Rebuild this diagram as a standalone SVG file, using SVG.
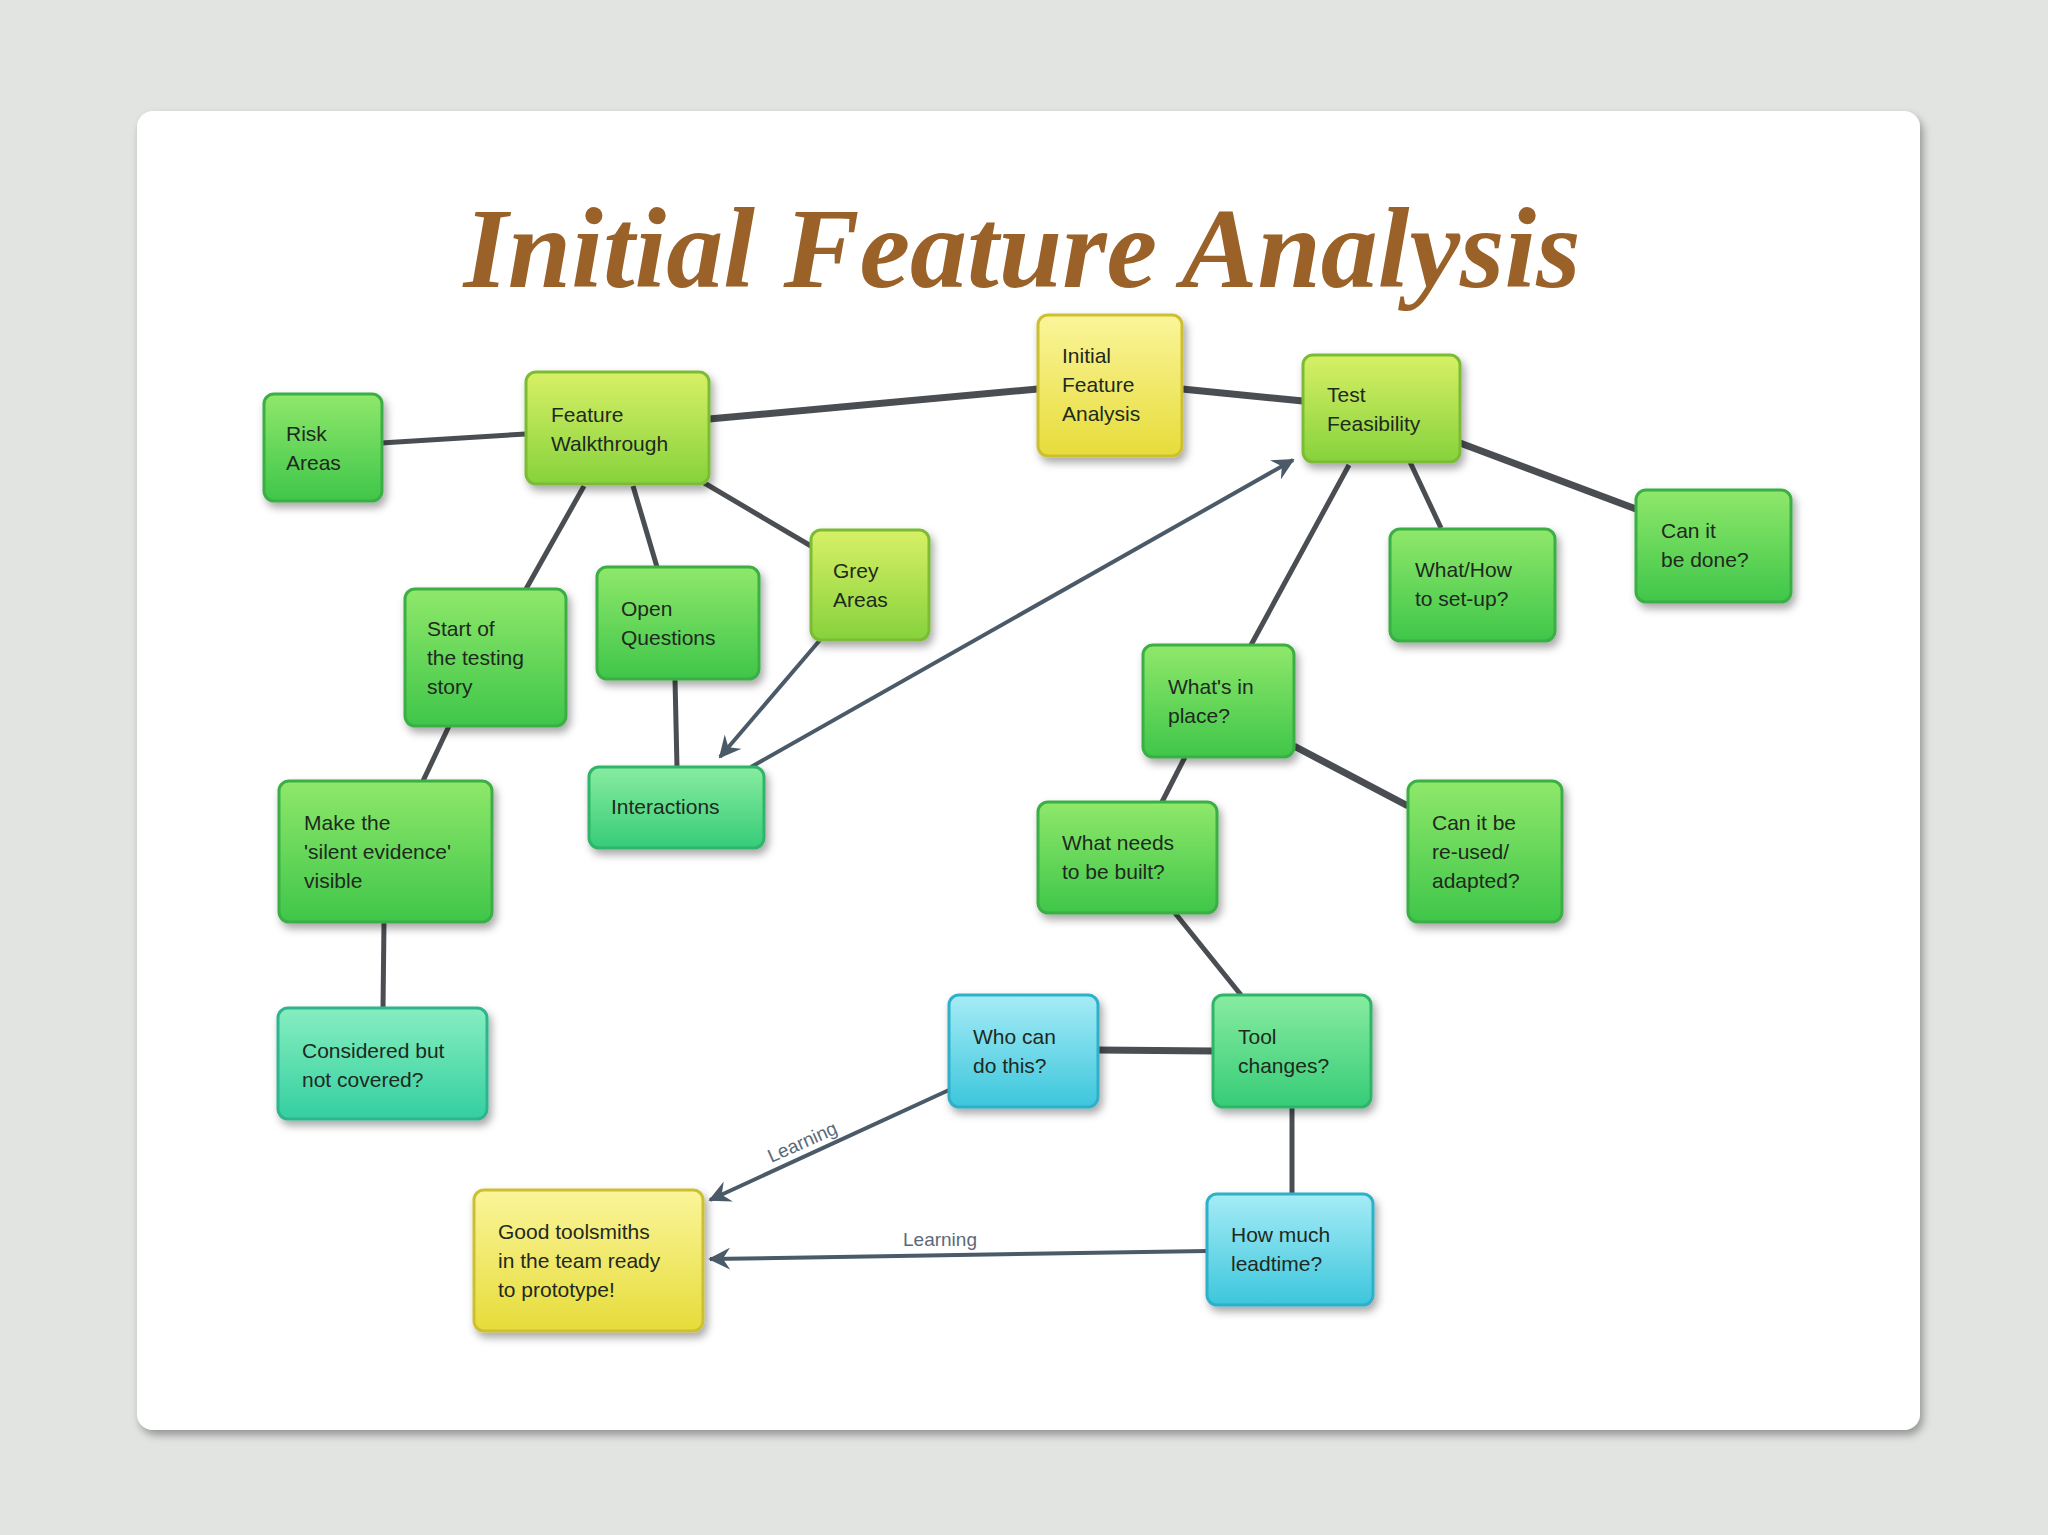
<svg xmlns="http://www.w3.org/2000/svg" width="2048" height="1535" viewBox="0 0 2048 1535">
<defs>
<linearGradient id="gG" x1="0" y1="0" x2="0" y2="1"><stop offset="0" stop-color="#8fe86a"/><stop offset="1" stop-color="#3fc64a"/></linearGradient>
<linearGradient id="gYG" x1="0" y1="0" x2="0" y2="1"><stop offset="0" stop-color="#d8f066"/><stop offset="1" stop-color="#86d23c"/></linearGradient>
<linearGradient id="gY" x1="0" y1="0" x2="0" y2="1"><stop offset="0" stop-color="#fbf59a"/><stop offset="1" stop-color="#e6dc3a"/></linearGradient>
<linearGradient id="gT" x1="0" y1="0" x2="0" y2="1"><stop offset="0" stop-color="#86eec0"/><stop offset="1" stop-color="#34cfa0"/></linearGradient>
<linearGradient id="gC" x1="0" y1="0" x2="0" y2="1"><stop offset="0" stop-color="#a6ecf6"/><stop offset="1" stop-color="#3cc6dc"/></linearGradient>
<linearGradient id="gTG" x1="0" y1="0" x2="0" y2="1"><stop offset="0" stop-color="#88eca0"/><stop offset="1" stop-color="#36cc78"/></linearGradient>
<marker id="arw" viewBox="0 0 12 12" refX="11" refY="6" markerWidth="22" markerHeight="22" orient="auto" markerUnits="userSpaceOnUse"><path d="M0,0 L12,6 L0,12 L4,6 z" fill="#4a5a68"/></marker>
<filter id="sh" x="-10%" y="-10%" width="130%" height="130%"><feDropShadow dx="3" dy="5" stdDeviation="4" flood-color="#000" flood-opacity="0.35"/></filter>
</defs>
<style>
.n rect{stroke-width:3;filter:url(#sh)}
.g{fill:url(#gG);stroke:#3aae45}
.yg{fill:url(#gYG);stroke:#7cbc35}
.y{fill:url(#gY);stroke:#ccc030}
.t{fill:url(#gT);stroke:#2fb590}
.c{fill:url(#gC);stroke:#2fb0c8}
.tg{fill:url(#gTG);stroke:#2fb56a}
.n text{font-family:"Liberation Sans",Arial,sans-serif;font-size:21px;fill:#1e2a1e}
.e line{stroke:#4a4e52;stroke-width:5}
.a line{stroke:#4a5a68;stroke-width:4}
.lbl{font-family:"Liberation Sans",Arial,sans-serif;font-size:19px;fill:#5a6a78}
</style>
<rect width="2048" height="1535" fill="#e2e4e2"/>
<rect x="137" y="111" width="1783" height="1319" rx="16" fill="#ffffff" filter="url(#sh)"/>
<text x="1022" y="287" text-anchor="middle" font-family="Liberation Serif,Times New Roman,serif" font-style="italic" font-weight="bold" font-size="114" fill="#9a6128">Initial Feature Analysis</text>
<g id="connectors">
<g class="e">
<line x1="381" y1="443" x2="526" y2="434"/>
<line x1="709" y1="419" x2="1038" y2="389" style="stroke-width:7"/>
<line x1="1182" y1="389" x2="1303" y2="401" style="stroke-width:7"/>
<line x1="1460" y1="443" x2="1636" y2="509" style="stroke-width:7"/>
<line x1="1410" y1="462" x2="1441" y2="528"/>
<line x1="1349" y1="465" x2="1251" y2="645"/>
<line x1="584" y1="486" x2="526" y2="589"/>
<line x1="633" y1="486" x2="657" y2="567"/>
<line x1="701" y1="481" x2="811" y2="546"/>
<line x1="449" y1="726" x2="423" y2="781"/>
<line x1="675" y1="679" x2="677" y2="767"/>
<line x1="384" y1="922" x2="383" y2="1008"/>
<line x1="1185" y1="757" x2="1162" y2="802"/>
<line x1="1294" y1="746" x2="1408" y2="806" style="stroke-width:7"/>
<line x1="1175" y1="913" x2="1241" y2="995"/>
<line x1="1098" y1="1050" x2="1213" y2="1051" style="stroke-width:7"/>
<line x1="1292" y1="1107" x2="1292" y2="1194"/>
</g>
<g class="a">
<line x1="820" y1="640" x2="720" y2="757" marker-end="url(#arw)"/>
<line x1="751" y1="767" x2="1293" y2="460" marker-end="url(#arw)"/>
<line x1="949" y1="1090" x2="710" y2="1200" marker-end="url(#arw)"/>
<line x1="1207" y1="1251" x2="710" y2="1259" marker-end="url(#arw)"/>
</g>
<text class="lbl" x="805" y="1148" transform="rotate(-24 805 1148)" text-anchor="middle">Learning</text>
<text class="lbl" x="940" y="1246" text-anchor="middle">Learning</text>
</g>
<g id="risk" class="n"><rect class="g" x="264" y="394" width="118" height="107" rx="10"/><text x="286" y="441">Risk</text><text x="286" y="470">Areas</text></g>
<g id="fw" class="n"><rect class="yg" x="526" y="372" width="183" height="112" rx="10"/><text x="551" y="422">Feature</text><text x="551" y="451">Walkthrough</text></g>
<g id="ifa" class="n"><rect class="y" x="1038" y="315" width="144" height="141" rx="10"/><text x="1062" y="363">Initial</text><text x="1062" y="392">Feature</text><text x="1062" y="421">Analysis</text></g>
<g id="tf" class="n"><rect class="yg" x="1303" y="355" width="157" height="107" rx="10"/><text x="1327" y="402">Test</text><text x="1327" y="431">Feasibility</text></g>
<g id="done" class="n"><rect class="g" x="1636" y="490" width="155" height="112" rx="10"/><text x="1661" y="538">Can it</text><text x="1661" y="567">be done?</text></g>
<g id="setup" class="n"><rect class="g" x="1390" y="529" width="165" height="112" rx="10"/><text x="1415" y="577">What/How</text><text x="1415" y="606">to set-up?</text></g>
<g id="grey" class="n"><rect class="yg" x="811" y="530" width="118" height="110" rx="10"/><text x="833" y="578">Grey</text><text x="833" y="607">Areas</text></g>
<g id="open" class="n"><rect class="g" x="597" y="567" width="162" height="112" rx="10"/><text x="621" y="616">Open</text><text x="621" y="645">Questions</text></g>
<g id="start" class="n"><rect class="g" x="405" y="589" width="161" height="137" rx="10"/><text x="427" y="636">Start of</text><text x="427" y="665">the testing</text><text x="427" y="694">story</text></g>
<g id="inplace" class="n"><rect class="g" x="1143" y="645" width="151" height="112" rx="10"/><text x="1168" y="694">What's in</text><text x="1168" y="723">place?</text></g>
<g id="inter" class="n"><rect class="tg" x="589" y="767" width="175" height="81" rx="10"/><text x="611" y="814">Interactions</text></g>
<g id="silent" class="n"><rect class="g" x="279" y="781" width="213" height="141" rx="10"/><text x="304" y="830">Make the</text><text x="304" y="859">'silent evidence'</text><text x="304" y="888">visible</text></g>
<g id="built" class="n"><rect class="g" x="1038" y="802" width="179" height="111" rx="10"/><text x="1062" y="850">What needs</text><text x="1062" y="879">to be built?</text></g>
<g id="reuse" class="n"><rect class="g" x="1408" y="781" width="154" height="141" rx="10"/><text x="1432" y="830">Can it be</text><text x="1432" y="859">re-used/</text><text x="1432" y="888">adapted?</text></g>
<g id="considered" class="n"><rect class="t" x="278" y="1008" width="209" height="111" rx="10"/><text x="302" y="1058">Considered but</text><text x="302" y="1087">not covered?</text></g>
<g id="who" class="n"><rect class="c" x="949" y="995" width="149" height="112" rx="10"/><text x="973" y="1044">Who can</text><text x="973" y="1073">do this?</text></g>
<g id="tool" class="n"><rect class="tg" x="1213" y="995" width="158" height="112" rx="10"/><text x="1238" y="1044">Tool</text><text x="1238" y="1073">changes?</text></g>
<g id="good" class="n"><rect class="y" x="474" y="1190" width="229" height="141" rx="10"/><text x="498" y="1239">Good toolsmiths</text><text x="498" y="1268">in the team ready</text><text x="498" y="1297">to prototype!</text></g>
<g id="lead" class="n"><rect class="c" x="1207" y="1194" width="166" height="111" rx="10"/><text x="1231" y="1242">How much</text><text x="1231" y="1271">leadtime?</text></g>
</svg>
